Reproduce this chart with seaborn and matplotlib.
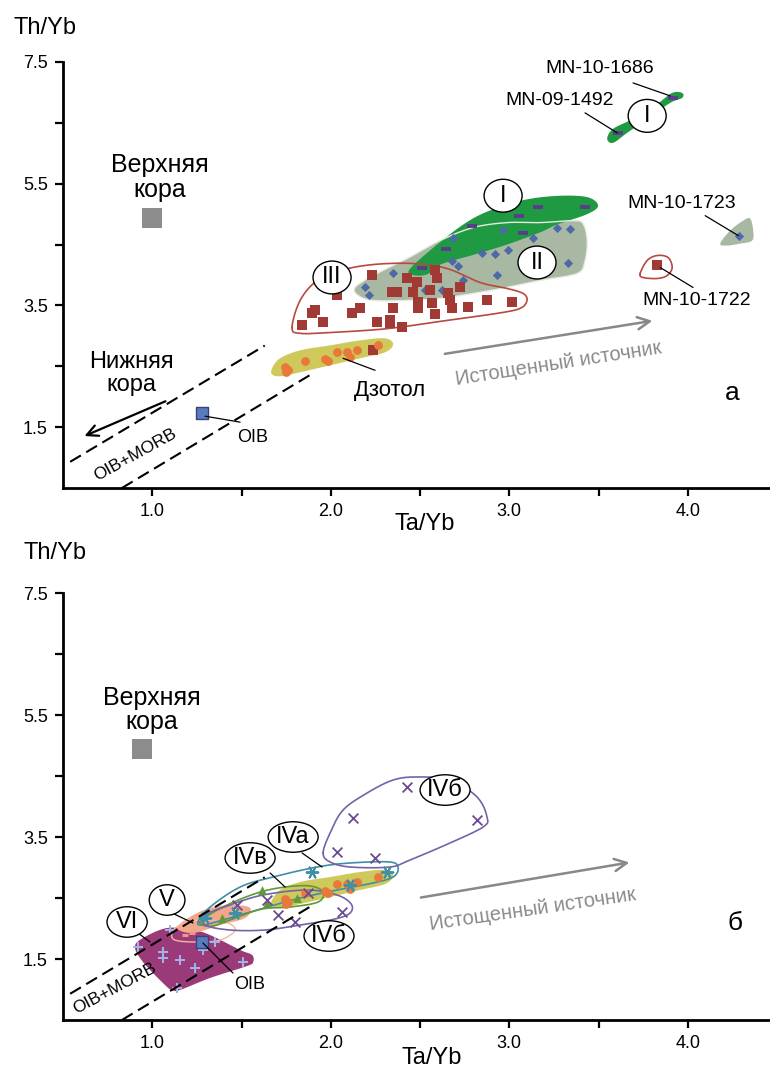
import numpy as np
import matplotlib
matplotlib.use("Agg")
import matplotlib.pyplot as plt
import seaborn as sns
from matplotlib.patches import Ellipse

# ---------------- axes ----------------
xlim = (0.5, 4.46)
ylim = (0.5, 7.5)
x_major = [1.0, 2.0, 3.0, 4.0]
x_minor = [1.5, 2.5, 3.5]
y_major = [1.5, 3.5, 5.5, 7.5]
y_minor = [2.5, 4.5, 6.5]

# ---------------- reference points ----------------
upper_crust_a = (1.00, 4.94)
upper_crust_b = (0.94, 4.94)
oib_a = (1.28, 1.74)
oib_b = (1.28, 1.78)

# OIB+MORB field boundaries
morb_upper_x = [0.54, 1.63]
morb_upper_y = [0.93, 2.84]
morb_lower_x = [0.83, 1.90]
morb_lower_y = [0.50, 2.385]

# ---------------- panel a data ----------------
dzotol_x = [1.744, 1.760, 1.749, 1.856, 1.968, 1.985, 2.035, 2.091, 2.108, 2.147, 2.265]
dzotol_y = [2.484, 2.434, 2.400, 2.580, 2.615, 2.580, 2.730, 2.730, 2.647, 2.762, 2.844]

grp3_x = [1.839, 1.912, 1.895, 1.957, 2.035, 2.119, 2.164, 2.259, 2.332, 2.343, 2.231,
          2.371, 2.427, 2.483, 2.584, 2.595, 2.461, 2.556, 2.657, 2.724, 2.349, 2.489,
          2.567, 2.668, 2.679, 2.489, 2.584, 2.769, 2.875, 3.015, 2.332, 2.399, 2.237, 3.828]
grp3_y = [3.172, 3.418, 3.369, 3.221, 3.664, 3.369, 3.451, 3.221, 3.254, 3.713, 3.992,
          3.713, 3.943, 3.877, 4.074, 3.943, 3.713, 3.746, 3.697, 3.795, 3.451, 3.549,
          3.533, 3.582, 3.451, 3.451, 3.352, 3.467, 3.582, 3.549, 3.205, 3.139, 2.762, 4.172]

grp2_x = [2.192, 2.214, 2.349, 2.528, 2.623, 2.679, 2.713, 2.847, 2.920, 2.993, 2.931,
          3.133, 3.268, 3.340, 3.329, 2.685, 2.965, 2.741, 4.287]
grp2_y = [3.795, 3.664, 4.025, 3.746, 3.746, 4.238, 4.156, 4.369, 4.352, 4.418, 3.992,
          4.615, 4.779, 4.762, 4.189, 4.615, 4.746, 3.910, 4.648]

grp1_x = [3.161, 3.424, 3.055, 2.791, 3.077, 2.646, 2.511, 3.609, 3.917]
grp1_y = [5.123, 5.123, 4.975, 4.811, 4.697, 4.434, 4.107, 6.336, 6.910]

# fields (outline vertices)
field1_x = [2.445, 2.612, 2.763, 2.892, 3.077, 3.268, 3.436, 3.497, 3.436, 3.268, 3.172,
            2.987, 2.797, 2.612, 2.539, 2.461]
field1_y = [4.107, 4.540, 4.870, 5.060, 5.230, 5.300, 5.280, 5.139, 5.000, 4.830, 4.700,
            4.500, 4.330, 4.170, 4.010, 4.000]
field1b_x = [3.548, 3.581, 3.693, 3.828, 3.912, 3.968, 3.968, 3.901, 3.772, 3.660, 3.581]
field1b_y = [6.238, 6.402, 6.566, 6.811, 6.992, 6.992, 6.910, 6.828, 6.566, 6.336, 6.172]
field2_x = [2.136, 2.237, 2.427, 2.612, 2.797, 2.987, 3.172, 3.357, 3.413, 3.436, 3.424,
            3.380, 3.172, 2.987, 2.797, 2.612, 2.427, 2.237, 2.153]
field2_y = [3.795, 3.992, 4.270, 4.566, 4.779, 4.861, 4.861, 4.893, 4.844, 4.566, 4.238,
            4.025, 3.910, 3.795, 3.697, 3.615, 3.582, 3.582, 3.664]
field2b_x = [4.181, 4.237, 4.310, 4.349, 4.366, 4.360, 4.293, 4.220]
field2b_y = [4.516, 4.730, 4.893, 4.926, 4.730, 4.566, 4.516, 4.484]
field3_x = [1.783, 1.828, 1.923, 2.052, 2.237, 2.461, 2.651, 2.836, 2.987, 3.077, 3.099,
            3.060, 2.931, 2.651, 2.461, 2.276, 2.013, 1.828]
field3_y = [3.139, 3.582, 3.910, 4.074, 4.172, 4.189, 4.107, 3.877, 3.779, 3.697, 3.582,
            3.451, 3.369, 3.254, 3.172, 3.107, 3.057, 3.041]
field3b_x = [3.733, 3.772, 3.828, 3.889, 3.912, 3.884, 3.828, 3.749]
field3b_y = [4.025, 4.238, 4.320, 4.287, 4.123, 3.992, 3.943, 3.959]
dzotol_field_x = [1.671, 1.716, 1.828, 1.996, 2.164, 2.304, 2.349, 2.304, 2.164, 1.996,
                  1.828, 1.716, 1.671]
dzotol_field_y = [2.467, 2.631, 2.762, 2.844, 2.926, 2.959, 2.861, 2.730, 2.631, 2.516,
                  2.402, 2.336, 2.369]

# ---------------- panel b data ----------------
grp6_x = [0.920, 1.099, 1.060, 1.155, 1.239, 1.284, 1.352, 1.508, 1.139, 1.060]
grp6_y = [1.697, 1.975, 1.516, 1.484, 1.352, 1.648, 1.779, 1.451, 1.025, 1.615]
grp5_x = [1.183, 1.223]
grp5_y = [1.893, 1.926]
grp4a_x = [1.895, 2.315, 2.108, 1.464, 1.296]
grp4a_y = [2.926, 2.926, 2.713, 2.254, 2.172]
grp4v_x = [1.615, 1.643, 1.391, 1.811]
grp4v_y = [2.631, 2.418, 2.172, 2.500]
grp4b_x = [2.427, 2.125, 2.819, 2.035, 2.248, 2.063, 1.704, 1.800, 1.873, 1.643, 1.475]
grp4b_y = [4.320, 3.811, 3.779, 3.254, 3.156, 2.270, 2.221, 2.107, 2.582, 2.467, 2.385]

field6_x = [0.903, 0.948, 1.083, 1.228, 1.324, 1.492, 1.559, 1.565, 1.531, 1.324, 1.155,
            1.111, 1.071, 0.948]
field6_y = [1.697, 1.844, 2.008, 1.975, 1.893, 1.648, 1.566, 1.451, 1.385, 1.189, 0.992,
            0.992, 1.074, 1.451]
field5_x = [1.139, 1.211, 1.324, 1.452, 1.548, 1.520, 1.380, 1.228]
field5_y = [2.008, 2.189, 2.336, 2.385, 2.336, 2.172, 2.057, 1.926]
field5b_x = [1.111, 1.155, 1.268, 1.408, 1.464, 1.380, 1.239, 1.127]
field5b_y = [1.926, 2.057, 2.139, 2.107, 1.975, 1.811, 1.779, 1.811]
field4a_x = [1.256, 1.324, 1.492, 1.676, 1.923, 2.108, 2.332, 2.377, 2.349, 2.237, 2.035,
             1.828, 1.587, 1.396, 1.284]
field4a_y = [2.107, 2.352, 2.680, 2.844, 3.008, 3.074, 3.090, 2.992, 2.844, 2.746, 2.631,
             2.500, 2.303, 2.139, 2.057]
field4v_x = [1.268, 1.396, 1.587, 1.744, 1.884, 1.957, 1.929, 1.772, 1.615, 1.464, 1.335]
field4v_y = [2.107, 2.352, 2.582, 2.680, 2.697, 2.598, 2.434, 2.352, 2.320, 2.172, 2.041]
field4b_x = [1.296, 1.436, 1.620, 1.867, 2.035, 2.114, 2.108, 2.024, 1.828, 1.632, 1.436, 1.296]
field4b_y = [2.221, 2.385, 2.549, 2.631, 2.549, 2.402, 2.254, 2.156, 2.057, 1.975, 1.975, 2.057]
field4b2_x = [1.957, 1.996, 2.069, 2.203, 2.349, 2.483, 2.668, 2.819, 2.875, 2.853, 2.668,
              2.444, 2.332, 2.108, 1.996]
field4b2_y = [3.238, 3.566, 3.943, 4.221, 4.434, 4.484, 4.434, 4.156, 3.828, 3.664, 3.402,
              3.123, 3.008, 3.008, 3.090]

# ---------------- colours ----------------
C_GREEN = "#1f9a43"
C_GRAYGREEN = "#a9b8a2"
C_RED = "#a13a34"
C_RED_LINE = "#b8493f"
C_BLUE = "#4d6aa6"
C_PURPLE_DASH = "#5a3c8a"
C_ORANGE = "#e8793a"
C_YELLOW = "#cfc95c"
C_MAGENTA = "#9b3a78"
C_SALMON = "#f3a78a"
C_TEAL = "#3f8fa6"
C_OLIVE = "#5f9a35"
C_VIOLET = "#7463a8"
C_CROSS = "#6a4a90"
C_PLUS = "#a3b5e8"


def smooth(xs, ys, n=14):
    """Closed Catmull-Rom curve through the outline vertices."""
    P = np.column_stack([xs, ys]).astype(float)
    N = len(P)
    out = []
    ts = np.linspace(0, 1, n, endpoint=False)
    for i in range(N):
        p0, p1, p2, p3 = P[i - 1], P[i], P[(i + 1) % N], P[(i + 2) % N]
        for t in ts:
            t2, t3 = t * t, t * t * t
            out.append(0.5 * ((2 * p1) + (-p0 + p2) * t + (2 * p0 - 5 * p1 + 4 * p2 - p3) * t2
                              + (-p0 + 3 * p1 - 3 * p2 + p3) * t3))
    out = np.array(out)
    return out[:, 0], out[:, 1]


def fill_field(ax, xs, ys, color, z=1):
    sx, sy = smooth(xs, ys)
    ax.fill(sx, sy, color=color, lw=0, zorder=z)


def outline_field(ax, xs, ys, color, lw=1.2, z=3):
    sx, sy = smooth(xs, ys)
    ax.plot(np.append(sx, sx[0]), np.append(sy, sy[0]), color=color, lw=lw, zorder=z)


def label_oval(ax, x, y, text, w, h, fs=17):
    ax.add_patch(Ellipse((x, y), w, h, facecolor="white", edgecolor="black", lw=1.0, zorder=20))
    ax.text(x, y, text, ha="center", va="center", fontsize=fs, zorder=21)


def leader(ax, x, y):
    ax.plot(x, y, color="black", lw=0.9, zorder=19)


def pts(ax, x, y, marker, s, color, lw=0.0, z=6, ec=None):
    sns.scatterplot(x=x, y=y, marker=marker, s=s, color=color, linewidth=lw,
                    edgecolor=ec if ec is not None else ("face" if lw == 0 else color),
                    ax=ax, zorder=z, legend=False)


def style_axes(ax):
    ax.set_xlim(*xlim)
    ax.set_ylim(*ylim)
    ax.set_xticks(x_major)
    ax.set_xticks(x_minor, minor=True)
    ax.set_yticks(y_major)
    ax.set_yticks(y_minor, minor=True)
    ax.set_xticklabels([f"{v:.1f}" for v in x_major])
    ax.set_yticklabels([f"{v:.1f}" for v in y_major])
    ax.tick_params(which="both", direction="out", length=6, width=1.6, color="black",
                   labelcolor="black", labelsize=13, pad=5)
    for sp in ["top", "right"]:
        ax.spines[sp].set_visible(False)
    for sp in ["left", "bottom"]:
        ax.spines[sp].set_linewidth(2.0)
        ax.spines[sp].set_color("black")
    ax.set_xlabel("")
    ax.set_ylabel("")
    ax.grid(False)


def morb_lines(ax):
    ax.plot(morb_upper_x, morb_upper_y, color="black", lw=1.5, ls=(0, (6, 3)), zorder=8)
    ax.plot(morb_lower_x, morb_lower_y, color="black", lw=1.5, ls=(0, (6, 3)), zorder=8)


sns.set_theme(style="ticks")
plt.rcParams["font.family"] = ["Liberation Sans", "DejaVu Sans"]
plt.rcParams["text.color"] = "black"

fig = plt.figure(figsize=(7.7, 10.75), dpi=100)
ax1 = fig.add_axes([63 / 770, 1 - 488 / 1075, 1 - 63 / 770, (488 - 62) / 1075])
ax2 = fig.add_axes([63 / 770, 1 - 1020 / 1075, 1 - 63 / 770, (1020 - 593) / 1075])
for ax in (ax1, ax2):
    ax.set_facecolor("white")
fig.patch.set_facecolor("white")

# ================= panel a =================
fill_field(ax1, field2_x, field2_y, C_GRAYGREEN, z=1)
fill_field(ax1, field2b_x, field2b_y, C_GRAYGREEN, z=1)
fill_field(ax1, field1_x, field1_y, C_GREEN, z=2)
fill_field(ax1, field1b_x, field1b_y, C_GREEN, z=2)
sx, sy = smooth(field2_x, field2_y)
ax1.plot(sx, sy, color="#e6ece0", lw=1.0, zorder=3)
fill_field(ax1, dzotol_field_x, dzotol_field_y, C_YELLOW, z=2)
outline_field(ax1, field3_x, field3_y, C_RED_LINE, lw=1.2, z=4)
outline_field(ax1, field3b_x, field3b_y, C_RED_LINE, lw=1.2, z=4)

pts(ax1, grp2_x, grp2_y, "D", 22, C_BLUE, z=5)
pts(ax1, grp3_x, grp3_y, "s", 42, C_RED, z=6)
pts(ax1, grp1_x, grp1_y, "_", 50, C_PURPLE_DASH, lw=2.8, z=7)
pts(ax1, dzotol_x, dzotol_y, "o", 40, C_ORANGE, z=6)
pts(ax1, [upper_crust_a[0]], [upper_crust_a[1]], "s", 205, "#8c8c8c", z=6)
pts(ax1, [oib_a[0]], [oib_a[1]], "s", 72, "#5b7cbc", lw=1.0, ec="#33457a", z=9)

morb_lines(ax1)

ax1.annotate("", xy=(0.606, 1.336), xytext=(1.088, 1.943),
             arrowprops=dict(arrowstyle="->", color="black", lw=1.6, mutation_scale=20), zorder=9)
ax1.annotate("", xy=(3.817, 3.254), xytext=(2.623, 2.697),
             arrowprops=dict(arrowstyle="->", color="#888888", lw=1.8, mutation_scale=22), zorder=9)
ax1.text(3.273, 2.549, "Истощенный источник", color="#8a8a8a", fontsize=14.5,
         rotation=8.8, ha="center", va="center")

ax1.text(1.043, 5.60, "Верхняя\nкора", ha="center", va="center", fontsize=18, linespacing=1.05)
ax1.text(0.881, 2.385, "Нижняя\nкора", ha="center", va="center", fontsize=17, linespacing=1.05)
ax1.text(0.903, 1.041, "OIB+MORB", ha="center", va="center", fontsize=12.5, rotation=29)
ax1.text(1.564, 1.336, "OIB", ha="center", va="center", fontsize=13)
leader(ax1, [1.296, 1.492], [1.680, 1.582])
ax1.text(2.332, 2.107, "Дзотол", ha="center", va="center", fontsize=16)
leader(ax1, [2.069, 2.248], [2.631, 2.434])

ax1.text(3.508, 7.40, "MN-10-1686", ha="center", va="center", fontsize=14)
leader(ax1, [3.693, 3.901], [7.156, 6.943])
ax1.text(3.284, 6.861, "MN-09-1492", ha="center", va="center", fontsize=14)
leader(ax1, [3.424, 3.604], [6.664, 6.336])
ax1.text(3.968, 5.172, "MN-10-1723", ha="center", va="center", fontsize=14)
leader(ax1, [4.097, 4.282], [4.975, 4.648])
ax1.text(4.052, 3.582, "MN-10-1722", ha="center", va="center", fontsize=14)
leader(ax1, [3.845, 4.029], [4.123, 3.795])

label_oval(ax1, 3.772, 6.615, "I", 0.213, 0.54)
label_oval(ax1, 2.965, 5.303, "I", 0.213, 0.54)
label_oval(ax1, 3.155, 4.205, "II", 0.213, 0.54)
label_oval(ax1, 2.007, 3.959, "III", 0.213, 0.54)

ax1.text(4.248, 2.057, "а", ha="center", va="center", fontsize=19)
style_axes(ax1)

# ================= panel b =================
fill_field(ax2, field6_x, field6_y, C_MAGENTA, z=1)
fill_field(ax2, field5_x, field5_y, C_SALMON, z=2)
fill_field(ax2, dzotol_field_x, dzotol_field_y, C_YELLOW, z=2)
outline_field(ax2, field5b_x, field5b_y, "#f2b8a0", lw=1.0, z=3)
outline_field(ax2, field4a_x, field4a_y, C_TEAL, lw=1.2, z=3)
outline_field(ax2, field4v_x, field4v_y, C_OLIVE, lw=1.2, z=3)
outline_field(ax2, field4b_x, field4b_y, C_VIOLET, lw=1.2, z=3)
outline_field(ax2, field4b2_x, field4b2_y, C_VIOLET, lw=1.2, z=3)

pts(ax2, grp6_x, grp6_y, "+", 55, C_PLUS, lw=1.4, z=5)
pts(ax2, grp5_x, grp5_y, "_", 25, "#e79a8c", lw=2.2, z=5)
pts(ax2, dzotol_x, dzotol_y, "o", 40, C_ORANGE, z=5)
pts(ax2, grp4v_x, grp4v_y, "^", 40, C_OLIVE, z=6)
pts(ax2, grp4b_x, grp4b_y, "x", 50, C_CROSS, lw=1.3, z=6)
pts(ax2, grp4a_x, grp4a_y, (6, 2, 90), 70, C_TEAL, lw=1.4, z=7)
pts(ax2, [upper_crust_b[0]], [upper_crust_b[1]], "s", 205, "#8c8c8c", z=6)
pts(ax2, [oib_b[0]], [oib_b[1]], "s", 72, "#5b7cbc", lw=1.0, ec="#33457a", z=9)

morb_lines(ax2)

ax2.annotate("", xy=(3.688, 3.090), xytext=(2.489, 2.500),
             arrowprops=dict(arrowstyle="->", color="#888888", lw=1.8, mutation_scale=22), zorder=9)
ax2.text(3.133, 2.303, "Истощенный источник", color="#8a8a8a", fontsize=14.5,
         rotation=8.3, ha="center", va="center")

ax2.text(0.999, 5.582, "Верхняя\nкора", ha="center", va="center", fontsize=18, linespacing=1.05)
ax2.text(0.791, 1.025, "OIB+MORB", ha="center", va="center", fontsize=12.5, rotation=28)
ax2.text(1.548, 1.074, "OIB", ha="center", va="center", fontsize=13)
leader(ax2, [1.284, 1.452], [1.762, 1.270])

label_oval(ax2, 0.859, 2.107, "VI", 0.225, 0.50)
leader(ax2, [0.920, 0.987], [1.926, 1.779])
label_oval(ax2, 1.083, 2.467, "V", 0.20, 0.50)
leader(ax2, [1.111, 1.228], [2.254, 2.090])
label_oval(ax2, 1.548, 3.156, "IVв", 0.28, 0.50)
leader(ax2, [1.660, 1.744], [2.910, 2.680])
label_oval(ax2, 1.789, 3.500, "IVa", 0.28, 0.50)
leader(ax2, [1.839, 1.951], [3.238, 3.008])
label_oval(ax2, 1.990, 1.877, "IVб", 0.28, 0.50)
label_oval(ax2, 2.640, 4.270, "IVб", 0.28, 0.50)

ax2.text(4.265, 2.090, "б", ha="center", va="center", fontsize=19)
style_axes(ax2)

# axis titles
fig.text(45 / 770, 1 - 28 / 1075, "Th/Yb", ha="center", va="center", fontsize=17)
fig.text(425 / 770, 1 - 524 / 1075, "Ta/Yb", ha="center", va="center", fontsize=17)
fig.text(55 / 770, 1 - 553 / 1075, "Th/Yb", ha="center", va="center", fontsize=17)
fig.text(432 / 770, 1 - 1058 / 1075, "Ta/Yb", ha="center", va="center", fontsize=17)

fig.savefig("out.png", dpi=100, facecolor="white")
